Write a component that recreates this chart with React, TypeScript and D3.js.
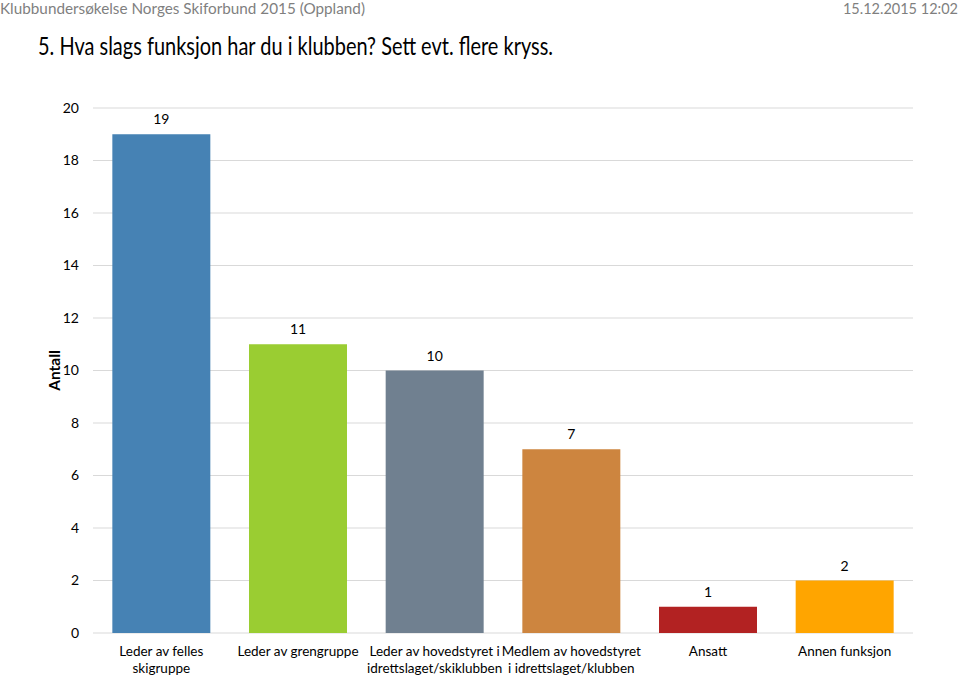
import React, { useEffect } from "react";
import * as d3 from "d3";

const categories: string[][] = [
  ["Leder av felles", "skigruppe"],
  ["Leder av grengruppe"],
  ["Leder av hovedstyret i", "idrettslaget/skiklubben"],
  ["Medlem av hovedstyret", "i idrettslaget/klubben"],
  ["Ansatt"],
  ["Annen funksjon"],
];
const values: number[] = [19, 11, 10, 7, 1, 2];
const colors: string[] = ["#4682B4", "#9ACD32", "#708090", "#CD853F", "#B22222", "#FFA500"];
const yTicks: number[] = [0, 2, 4, 6, 8, 10, 12, 14, 16, 18, 20];

const W = 959;
const H = 678;
const FONT = "Lato, 'Open Sans', sans-serif";

export default function App() {
  useEffect(() => {
    document.body.style.margin = "0";
  }, []);

  const x = d3
    .scaleBand<number>()
    .domain(d3.range(categories.length))
    .range([93, 913])
    .paddingInner(0.283)
    .paddingOuter(0.1415);
  const y = d3.scaleLinear().domain([0, 20]).range([633, 108]);

  return (
    <svg width={W} height={H} style={{ display: "block", background: "#fff" }} fontFamily={FONT}>
      <text x={0} y={14} fontSize={15.5} fill="#7f7f7f" textLength={365} lengthAdjust="spacingAndGlyphs">
        Klubbundersøkelse Norges Skiforbund 2015 (Oppland)
      </text>
      <text x={958} y={14} fontSize={14.5} fill="#7f7f7f" textAnchor="end">
        15.12.2015 12:02
      </text>
      <text x={38} y={55} fontSize={25} fill="#000" textLength={515} lengthAdjust="spacingAndGlyphs">
        5. Hva slags funksjon har du i klubben? Sett evt. flere kryss.
      </text>

      {yTicks.map((t) => (
        <g key={t}>
          <line x1={93} x2={913} y1={y(t)} y2={y(t)} stroke="#d9d9d9" strokeWidth={1} />
          <text x={79} y={y(t)} dy="0.35em" fontSize={14} textAnchor="end" fill="#000">
            {t}
          </text>
        </g>
      ))}

      <text
        transform={`translate(60, ${(y(0) + y(20)) / 2}) rotate(-90)`}
        fontSize={15.5}
        fontWeight="bold"
        textAnchor="middle"
        fill="#000"
      >
        Antall
      </text>

      {values.map((v, i) => (
        <g key={i}>
          <rect x={x(i)} y={y(v)} width={x.bandwidth()} height={y(0) - y(v)} fill={colors[i]} />
          <text
            x={(x(i) as number) + x.bandwidth() / 2}
            y={y(v) - 10}
            fontSize={14}
            textAnchor="middle"
            fill="#000"
          >
            {v}
          </text>
          {categories[i].map((line, j) => (
            <text
              key={j}
              x={(x(i) as number) + x.bandwidth() / 2}
              y={656 + j * 17}
              fontSize={13.5}
              textAnchor="middle"
              fill="#000"
            >
              {line}
            </text>
          ))}
        </g>
      ))}
    </svg>
  );
}
